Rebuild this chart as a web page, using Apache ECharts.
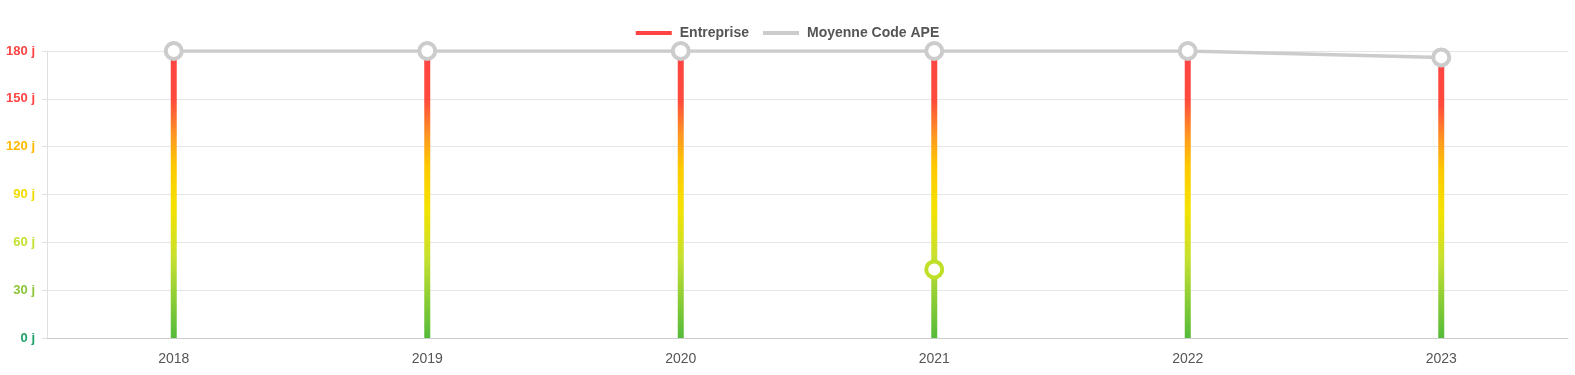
<!DOCTYPE html>
<html><head><meta charset="utf-8">
<script src="https://cdn.jsdelivr.net/npm/echarts@6/dist/echarts.min.js"></script>
<style>html,body{margin:0;padding:0;background:#fff}#c{width:1575px;height:375px}</style>
</head><body><div id="c"></div>
<script>
const years = ['2018','2019','2020','2021','2022','2023'];
const entreprise = [null, null, null, 43, null, null];
const moyenneAPE = [180, 180, 180, 180, 180, 176];
const barValues = [180, 180, 180, 180, 180, 176];
const yTicks = [0, 30, 60, 90, 120, 150, 180];
const tickColors = {0:'#1fa36a',30:'#8cc63a',60:'#c3e232',90:'#f2dc00',120:'#ffb800',150:'#ff4444',180:'#ff4444'};

const chart = echarts.init(document.getElementById('c'));
const grad = new echarts.graphic.LinearGradient(0,0,0,1,[
  {offset:0,color:'#ff4444'},
  {offset:0.17,color:'#ff4a3c'},
  {offset:0.3,color:'#ff9a20'},
  {offset:0.4,color:'#ffc800'},
  {offset:0.55,color:'#f4e200'},
  {offset:0.72,color:'#c6e030'},
  {offset:1,color:'#55bb3a'}
]);
chart.setOption({
  animation:false,
  textStyle:{fontFamily:'Liberation Sans, Arial, sans-serif'},
  legend:{
    top:21, left:'center', itemGap:14, itemWidth:36, itemHeight:4,
    textStyle:{fontWeight:'bold',fontSize:14,color:'#555',padding:[0,0,0,3]},
    data:[{name:'Entreprise',icon:'rect',itemStyle:{color:'#ff4444',borderWidth:0}},
          {name:'Moyenne Code APE',icon:'rect',itemStyle:{color:'#cccccc',borderWidth:0}}]
  },
  grid:{left:47,right:7,top:51,bottom:37},
  xAxis:{type:'category',data:years,boundaryGap:true,
    axisLine:{lineStyle:{color:'#ccc'}},axisTick:{show:false},
    axisLabel:{color:'#555',fontSize:14,margin:14}},
  yAxis:{type:'value',min:0,max:180,interval:30,
    axisLine:{show:true,lineStyle:{color:'#e0e0e0'}},
    axisTick:{show:true,length:5,lineStyle:{color:'#e0e0e0'}},
    splitLine:{lineStyle:{color:'#e6e6e6'}},
    axisLabel:{fontWeight:'bold',fontSize:13,margin:12,
      formatter:v=>v+' j',
      color:v=>tickColors[v]||'#555'}},
  series:[
    {type:'bar',name:'bars',data:barValues,barWidth:6,itemStyle:{color:grad},z:1,silent:true},
    {type:'line',name:'Moyenne Code APE',data:moyenneAPE,symbol:'circle',symbolSize:16,
      lineStyle:{color:'#cccccc',width:3.5},
      itemStyle:{color:'#fff',borderColor:'#cccccc',borderWidth:4},z:3},
    {type:'line',name:'Entreprise',data:entreprise,symbol:'circle',symbolSize:16,
      lineStyle:{color:'#ff4444',width:3},
      itemStyle:{color:'#fff',borderColor:'#c0e028',borderWidth:4},z:4}
  ]
});
</script></body></html>
